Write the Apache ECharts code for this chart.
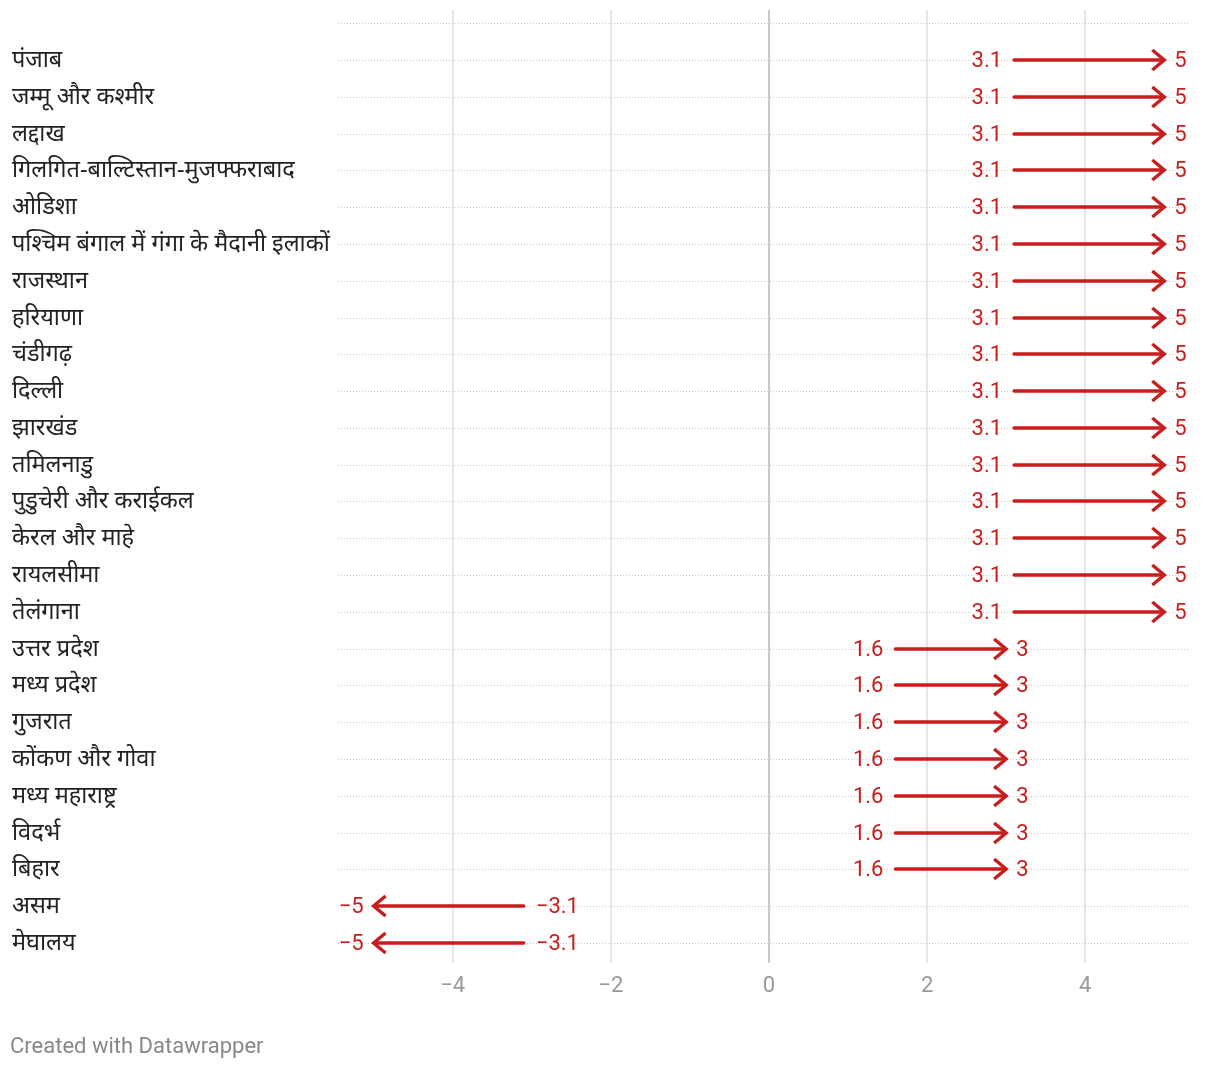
<!DOCTYPE html>
<html>
<head>
<meta charset="utf-8">
<script src="https://cdn.jsdelivr.net/npm/echarts@6/dist/echarts.min.js"></script>
<style>
html,body{margin:0;padding:0;background:#fff;}
#chart{width:1220px;height:1070px;}
</style>
</head>
<body>
<div id="chart"></div>
<script>
const categories = [
  'पंजाब','जम्मू और कश्मीर','लद्दाख','गिलगित-बाल्टिस्तान-मुजफ्फराबाद','ओडिशा',
  'पश्चिम बंगाल में गंगा के मैदानी इलाकों','राजस्थान','हरियाणा','चंडीगढ़','दिल्ली',
  'झारखंड','तमिलनाडु','पुडुचेरी और कराईकल','केरल और माहे','रायलसीमा','तेलंगाना',
  'उत्तर प्रदेश','मध्य प्रदेश','गुजरात','कोंकण और गोवा','मध्य महाराष्ट्र','विदर्भ','बिहार',
  'असम','मेघालय'
];
const startValues = [3.1,3.1,3.1,3.1,3.1,3.1,3.1,3.1,3.1,3.1,3.1,3.1,3.1,3.1,3.1,3.1,
  1.6,1.6,1.6,1.6,1.6,1.6,1.6,-3.1,-3.1];
const endValues = [5,5,5,5,5,5,5,5,5,5,5,5,5,5,5,5,
  3,3,3,3,3,3,3,-5,-5];
const xTicks = [-4,-2,0,2,4];

const X_MIN = -5.45, X_MAX = 5.3;
const RED = '#c71e1d';
const fmt = v => String(v).replace('-', '\u2212');

const data = categories.map((c, i) => [startValues[i], endValues[i], i, c]);

const chart = echarts.init(document.getElementById('chart'));
chart.setOption({
  animation: false,
  backgroundColor: '#fff',
  title: {
    text: 'Created with Datawrapper',
    left: 5, top: 1031,
    textStyle: {fontFamily: 'Roboto', fontSize: 22, fontWeight: 'normal', color: '#888'}
  },
  grid: {left: 338, right: 32, top: 10, bottom: 107},
  xAxis: {
    type: 'value', min: X_MIN, max: X_MAX,
    axisLine: {show: false}, axisTick: {show: false},
    axisLabel: {
      margin: 12, color: '#999', fontFamily: 'Roboto', fontSize: 22,
      showMinLabel: false, showMaxLabel: false,
      formatter: v => xTicks.indexOf(v) >= 0 ? fmt(v) : ''
    },
    splitLine: {show: true, showMinLine: false, showMaxLine: false,
      lineStyle: {color: '#e6e6e6', width: 2}}
  },
  yAxis: {
    type: 'value', inverse: true, min: -1.359, max: 24.544,
    show: false, splitLine: {show: false}
  },
  series: [{
    type: 'custom',
    data: data,
    encode: {x: [0, 1], y: 2},
    clip: false,
    markLine: {
      silent: true, symbol: 'none', label: {show: false},
      data: [
        {xAxis: 0, lineStyle: {color: '#c9c9c9', width: 2, type: 'solid'}},
        {yAxis: -1, lineStyle: {color: '#c8c8c8', width: 1, type: [1, 2]}}
      ]
    },
    renderItem: function (params, api) {
      const s = api.value(0), e = api.value(1), row = api.value(2);
      const name = categories[row];
      const p0 = api.coord([s, row]);
      const p1 = api.coord([e, row]);
      const pl = api.coord([X_MIN, row]);
      const pr = api.coord([X_MAX, row]);
      const dir = e >= s ? 1 : -1;
      const y = Math.round(p0[1]);
      const tip = p1[0];
      return {
        type: 'group',
        children: [
          {type: 'line', shape: {x1: pl[0], y1: y + 0.5, x2: pr[0], y2: y + 0.5},
            style: {stroke: '#c8c8c8', lineWidth: 1, lineDash: [1, 2]}},
          {type: 'line', shape: {x1: p0[0], y1: y, x2: tip - dir * 2, y2: y},
            style: {stroke: RED, lineWidth: 3.4, lineCap: 'round'}},
          {type: 'polyline', shape: {points: [[tip - dir * 12, y - 10], [tip, y], [tip - dir * 12, y + 10]]},
            style: {stroke: RED, lineWidth: 3.4, fill: null, lineJoin: 'miter', lineCap: 'butt'}},
          {type: 'text', x: p0[0] - dir * 12, y: y + 1,
            style: {text: fmt(s), fill: RED, font: '22px Roboto',
              align: dir > 0 ? 'right' : 'left', verticalAlign: 'middle'}},
          {type: 'text', x: tip + dir * 10, y: y + 1,
            style: {text: fmt(e), fill: RED, font: '22px Roboto',
              align: dir > 0 ? 'left' : 'right', verticalAlign: 'middle'}},
          {type: 'text', x: 12, y: y,
            style: {text: name, fill: '#222', font: '23.5px "Noto Sans", Roboto, sans-serif',
              align: 'left', verticalAlign: 'middle'}}
        ]
      };
    }
  }]
});
</script>
</body>
</html>
